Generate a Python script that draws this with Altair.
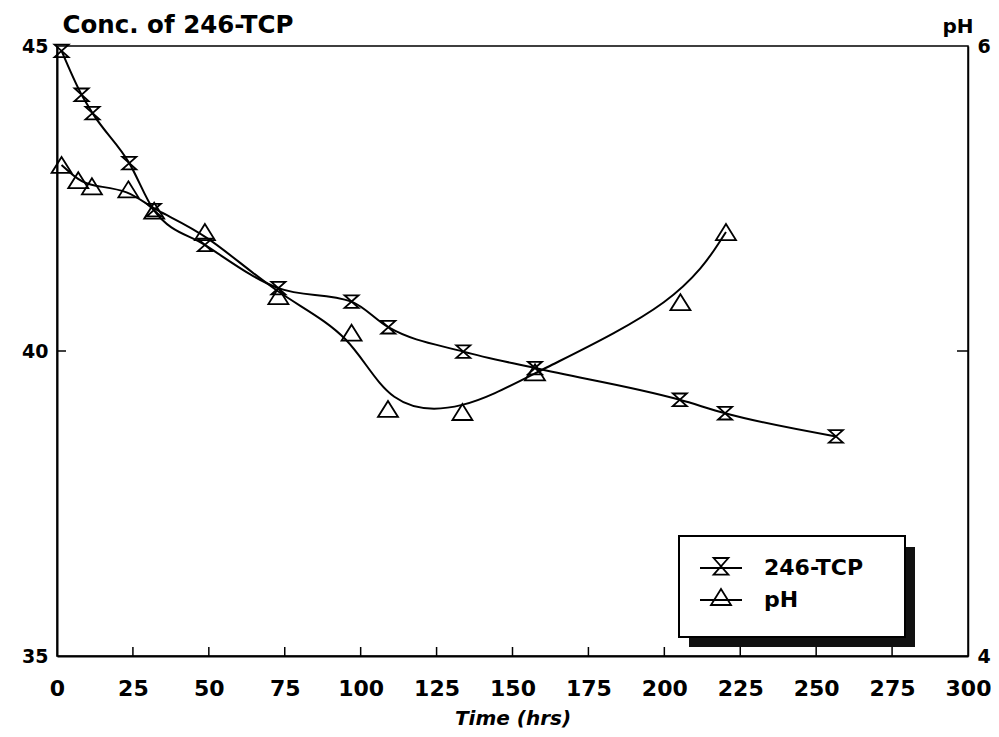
import altair as alt
import pandas as pd

# ---- data ----
tcp_time = [1.5, 8.1, 11.7, 23.8, 31.9, 48.7, 72.9, 97.0, 109.1, 133.8, 157.4, 205.1, 220.0, 256.5]
tcp_conc = [44.92, 44.20, 43.90, 43.08, 42.31, 41.74, 41.03, 40.81, 40.39, 39.99, 39.72, 39.20, 38.98, 38.60]

ph_time = [1.5, 7.0, 11.5, 23.5, 32.0, 48.7, 72.9, 97.0, 109.0, 133.5, 157.4, 205.3, 220.3]
ph_value = [5.61, 5.56, 5.54, 5.53, 5.46, 5.39, 5.18, 5.06, 4.81, 4.80, 4.93, 5.16, 5.39]

series_names = ["246-TCP", "pH"]

x_ticks = [0, 25, 50, 75, 100, 125, 150, 175, 200, 225, 250, 275, 300]
x_inner_ticks = [25, 50, 75, 100, 125, 150, 175, 200, 225, 250, 275]
conc_ticks = [35, 40, 45]
conc_inner_ticks = [40]
ph_ticks = [4, 5, 6]
ph_inner_ticks = [5]

# ---- styling ----
FONT = "DejaVu Sans"
W, H = 911, 610
HOURGLASS = "M-1,-0.9L1,-0.9L-1,0.9L1,0.9Z"
TRIANGLE = "M0,-0.8L1,0.8L-1,0.8Z"
LEG_HG = "M-1.05,0L1.05,0M-0.37,-0.5L0.37,-0.5L-0.37,0.33L0.37,0.33Z"
LEG_TRI = "M-1.05,0L1.05,0M0,-0.55L0.5,0.25L-0.5,0.25Z"

tcp_df = pd.DataFrame({"time": tcp_time, "conc": tcp_conc})
ph_df = pd.DataFrame({"time": ph_time, "ph": ph_value})
one = pd.DataFrame({"k": [0]})

x_scale = alt.Scale(domain=[0, 300], nice=False, zero=False)
conc_scale = alt.Scale(domain=[35, 45], nice=False, zero=False)
ph_scale = alt.Scale(domain=[4, 6], nice=False, zero=False)

x_axis = alt.Axis(
    values=x_ticks, format="d", title="Time (hrs)", grid=False, ticks=False, tickSize=0,
    labelFont=FONT, labelFontSize=22, labelFontWeight="bold", labelColor="black",
    labelPadding=22, labelFlush=False, labelOverlap=False,
    domainColor="black", domainWidth=2,
    titleFont=FONT, titleFontSize=20, titleFontWeight="bold", titleFontStyle="italic",
    titleColor="black", titleY=68, titleBaseline="alphabetic",
)
conc_axis = alt.Axis(
    values=conc_ticks, format="d", title="Conc. of 246-TCP", grid=False, ticks=False, tickSize=0,
    labelFont=FONT, labelFontSize=19, labelFontWeight="bold", labelColor="black",
    labelPadding=9, labelFlush=False, labelOverlap=False,
    domainColor="black", domainWidth=2,
    titleFont=FONT, titleFontSize=24.5, titleFontWeight="bold", titleColor="black",
    titleAngle=0, titleAlign="left", titleX=5, titleY=-14, titleBaseline="alphabetic",
)
ph_axis = alt.Axis(
    orient="right", values=ph_ticks, format="d", title="pH", grid=False, ticks=False, tickSize=0,
    labelFont=FONT, labelFontSize=19, labelFontWeight="bold", labelColor="black",
    labelPadding=9, labelFlush=False, labelOverlap=False,
    domainColor="black", domainWidth=1.5,
    titleFont=FONT, titleFontSize=20, titleFontWeight="bold", titleColor="black",
    titleAngle=0, titleAlign="right", titleX=5, titleY=-14, titleBaseline="alphabetic",
)

# legend frame (decoration)
shadow = alt.Chart(one).mark_rect(fill="#111111").encode(
    x=alt.value(632), x2=alt.value(858), y=alt.value(501), y2=alt.value(601))
box = alt.Chart(one).mark_rect(fill="white", stroke="black", strokeWidth=2).encode(
    x=alt.value(622), x2=alt.value(848), y=alt.value(490), y2=alt.value(591))

tcp_line = alt.Chart(tcp_df).mark_line(color="black", strokeWidth=2, interpolate="monotone").encode(
    x=alt.X("time:Q", scale=x_scale, axis=x_axis),
    y=alt.Y("conc:Q", scale=conc_scale, axis=conc_axis),
)
tcp_pts = alt.Chart(tcp_df).mark_point(
    shape=HOURGLASS, size=196, filled=False, color="black", strokeWidth=1.8, opacity=1
).encode(x="time:Q", y="conc:Q")

xt = alt.Chart(pd.DataFrame({"time": x_inner_ticks})).mark_rule(color="black", strokeWidth=1.5).encode(
    x="time:Q", y=alt.value(H), y2=alt.value(H - 9))
ct = alt.Chart(pd.DataFrame({"conc": conc_inner_ticks})).mark_rule(color="black", strokeWidth=1.5).encode(
    y="conc:Q", x=alt.value(0), x2=alt.value(9))

legend_layer = alt.Chart(pd.DataFrame({"series": series_names})).mark_point(
    filled=False, color="black"
).encode(
    shape=alt.Shape(
        "series:N",
        scale=alt.Scale(domain=series_names, range=[LEG_HG, LEG_TRI]),
        legend=alt.Legend(
            title=None, orient="none", legendX=643, legendY=501,
            symbolSize=1600, symbolStrokeWidth=1.8, symbolStrokeColor="black",
            symbolFillColor="transparent", symbolOpacity=1,
            labelFont=FONT, labelFontSize=22, labelFontWeight="bold", labelColor="black",
            labelOffset=22, rowPadding=0, padding=0, labelLimit=300,
        ),
    )
).transform_filter("false")

ph_line = alt.Chart(ph_df).mark_line(color="black", strokeWidth=2, interpolate="basis").encode(
    x=alt.X("time:Q", scale=x_scale),
    y=alt.Y("ph:Q", scale=ph_scale, axis=ph_axis),
)
ph_pts = alt.Chart(ph_df).mark_point(
    shape=TRIANGLE, size=400, filled=False, color="black", strokeWidth=1.8, opacity=1
).encode(x="time:Q", y="ph:Q")
pt = alt.Chart(pd.DataFrame({"ph": ph_inner_ticks})).mark_rule(color="black", strokeWidth=1.5).encode(
    y="ph:Q", x=alt.value(W), x2=alt.value(W - 11))

left = alt.layer(shadow, box, tcp_line, tcp_pts, xt, ct, legend_layer)
right = alt.layer(ph_line, ph_pts, pt)

chart = (
    alt.layer(left, right)
    .resolve_scale(y="independent")
    .properties(width=W, height=H, background="white",
                autosize=alt.AutoSizeParams(type="none"),
                padding={"left": 49, "top": 38, "right": 23, "bottom": 73})
    .configure_view(stroke="black", strokeWidth=1.5)
)

chart.save("out.html", embed_options={"renderer": "svg", "actions": False})
